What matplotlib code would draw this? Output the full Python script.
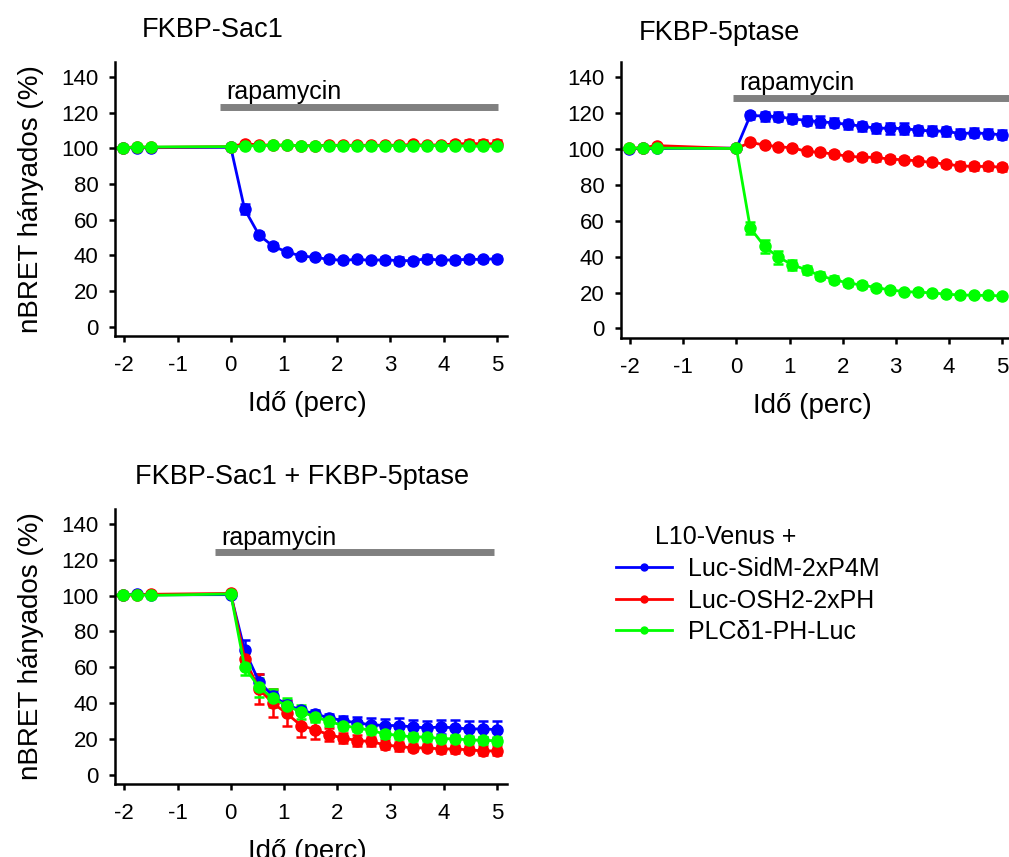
"""nBRET time courses after rapamycin-induced recruitment (three panels + legend)."""

import matplotlib
matplotlib.use("Agg")
import matplotlib.pyplot as plt
from matplotlib.lines import Line2D

plt.rcParams["font.family"] = ["Liberation Sans", "DejaVu Sans"]

# time points (min): 4 baseline reads, then rapamycin at 0
TIME = [-2.29, -2.03, -1.76, -1.50,
        0.00, 0.26, 0.53, 0.79, 1.05, 1.32, 1.58, 1.84, 2.11, 2.37,
        2.63, 2.89, 3.16, 3.42, 3.68, 3.95, 4.21, 4.47, 4.74, 5.00]

SERIES_NAMES = ["Luc-SidM-2xP4M", "Luc-OSH2-2xPH", "PLC\u03b41-PH-Luc"]
COLORS = ["#0000ff", "#ff0000", "#00ff00"]

# --- FKBP-Sac1 ---
sac1_blue = [100.0, 100.3, 100.4, 100.4,
             100.6, 65.9, 51.4, 45.2, 41.9, 39.6, 38.9, 37.7, 37.2, 37.7,
             37.2, 37.5, 37.0, 37.0, 38.1, 37.2, 37.5, 37.7, 37.7, 38.1]
sac1_blue_err = [0.5, 0.8, 0.8, 0.8,
                 0.8, 3.0, 1.8, 1.5, 1.3, 1.2, 1.2, 1.5, 1.5, 1.5,
                 1.5, 1.8, 1.8, 1.5, 1.8, 1.5, 1.8, 1.5, 1.5, 1.5]
sac1_red = [100.0, 100.5, 100.8, 100.6,
            101.0, 102.6, 102.0, 101.8, 101.9, 101.5, 101.6, 101.8, 101.7, 101.8,
            101.7, 101.8, 101.8, 102.2, 101.8, 102.0, 102.5, 102.7, 102.6, 102.6]
sac1_red_err = [0.5, 0.5, 0.5, 0.5,
                0.5, 1.0, 0.8, 0.8, 0.8, 0.8, 0.8, 0.8, 0.8, 0.8,
                0.8, 0.8, 0.8, 1.0, 1.0, 1.2, 1.5, 1.8, 2.0, 2.2]
sac1_green = [100.0, 100.4, 100.6, 100.8,
              101.0, 101.3, 101.6, 101.7, 101.8, 101.4, 101.4, 101.6, 101.6, 101.5,
              101.5, 101.5, 101.6, 101.5, 101.5, 101.6, 101.5, 101.3, 101.2, 101.3]
sac1_green_err = [0.5, 0.6, 0.6, 0.6,
                  0.6, 0.6, 0.6, 0.6, 0.6, 0.6, 0.6, 0.6, 0.6, 0.6,
                  0.6, 0.6, 0.6, 0.6, 0.6, 0.6, 0.6, 0.6, 0.6, 0.6]

# --- FKBP-5ptase ---
ptase_blue = [99.5, 100.2, 100.3, 100.3,
              100.5, 118.7, 118.4, 118.0, 116.9, 115.9, 115.2, 114.6, 113.7, 112.7,
              111.6, 111.6, 111.4, 110.5, 110.1, 109.9, 108.6, 109.0, 108.6, 107.9]
ptase_blue_err = [0.5, 0.5, 0.5, 0.5,
                  0.5, 2.0, 2.5, 2.5, 2.5, 2.5, 3.0, 2.5, 2.5, 2.5,
                  2.5, 3.0, 3.0, 2.5, 2.5, 2.5, 2.5, 2.5, 2.5, 2.5]
ptase_red = [99.2, 100.3, 100.8, 101.9,
             100.3, 103.7, 102.2, 101.3, 100.7, 98.7, 98.1, 97.2, 95.9, 95.5,
             95.3, 94.4, 94.0, 93.4, 92.5, 91.6, 90.6, 90.3, 90.3, 89.9]
ptase_red_err = [0.5, 0.5, 0.5, 0.5,
                 0.5, 1.0, 1.0, 1.0, 1.2, 1.5, 1.5, 1.5, 1.5, 1.5,
                 2.0, 1.5, 1.5, 1.5, 1.5, 1.5, 2.0, 2.0, 2.0, 2.0]
ptase_green = [99.5, 100.5, 100.5, 100.5,
               100.3, 56.0, 45.7, 39.7, 35.6, 32.6, 29.4, 27.2, 25.3, 24.2,
               22.8, 21.5, 20.6, 20.2, 19.9, 19.1, 18.7, 18.5, 18.4, 18.2]
ptase_green_err = [0.5, 0.5, 0.5, 0.5,
                   0.5, 3.5, 3.8, 3.5, 2.8, 2.5, 2.0, 1.8, 1.5, 1.5,
                   1.3, 1.2, 1.0, 1.0, 1.0, 1.0, 1.0, 1.0, 1.0, 1.0]

# --- FKBP-Sac1 + FKBP-5ptase ---
both_blue = [99.8, 100.5, 101.0, 100.5,
             100.6, 69.5, 52.0, 44.0, 39.0, 36.0, 34.0, 31.7, 30.2, 28.9,
             27.9, 27.4, 27.4, 26.6, 26.1, 26.6, 26.1, 25.5, 25.5, 25.1]
both_blue_err = [0.5, 0.5, 0.5, 0.5,
                 0.5, 6.0, 4.0, 2.5, 2.5, 2.0, 2.0, 2.0, 2.5, 3.0,
                 3.5, 3.5, 4.0, 4.0, 4.0, 4.0, 4.5, 4.5, 4.5, 4.7]
both_red = [99.8, 100.2, 100.5, 100.8,
            101.3, 64.8, 47.8, 40.0, 34.2, 27.4, 25.1, 22.3, 20.4, 19.0,
            18.5, 16.6, 15.7, 14.9, 14.9, 14.3, 14.3, 13.8, 13.2, 13.2]
both_red_err = [0.5, 0.5, 0.5, 0.5,
                0.5, 3.0, 8.5, 8.0, 7.0, 6.3, 5.0, 3.5, 3.0, 3.0,
                2.5, 2.5, 2.5, 2.0, 2.0, 2.0, 2.0, 2.0, 2.5, 2.5]
both_green = [100.0, 100.6, 100.5, 100.2,
              101.0, 60.1, 48.8, 42.7, 38.3, 35.1, 32.3, 29.8, 27.4, 26.1,
              24.7, 22.7, 21.9, 21.0, 21.0, 20.0, 20.0, 19.4, 19.1, 18.9]
both_green_err = [0.5, 0.5, 0.5, 0.5,
                  0.5, 4.4, 5.4, 5.0, 4.4, 4.0, 3.0, 2.5, 2.5, 2.0,
                  2.0, 2.0, 2.0, 2.0, 2.0, 2.0, 2.0, 2.0, 2.0, 2.0]

TITLES = ["FKBP-Sac1", "FKBP-5ptase", "FKBP-Sac1 + FKBP-5ptase"]
XTICKS = [-2, -1, 0, 1, 2, 3, 4, 5]
YTICKS = [0, 20, 40, 60, 80, 100, 120, 140]

W, H = 1009, 857
fig = plt.figure(figsize=(W / 100, H / 100), dpi=100)


def px_rect(left, top, right, bottom):
    return [left / W, 1 - bottom / H, (right - left) / W, (bottom - top) / H]


panels = [
    # axes rect, title x/y (axes frac), rapamycin bar (x0, x1, y), text (x, y), ylabel?
    (px_rect(115, 62, 507, 336), (0.068, 1.115), (-0.20, 5.03, 123.4), (-0.08, 127.5), True,
     [(sac1_blue, sac1_blue_err), (sac1_red, sac1_red_err), (sac1_green, sac1_green_err)]),
    (px_rect(621, 62, 1012, 338), (0.045, 1.105), (-0.06, 5.3, 128.2), (0.06, 133.0), False,
     [(ptase_blue, ptase_blue_err), (ptase_red, ptase_red_err), (ptase_green, ptase_green_err)]),
    (px_rect(115, 509, 507, 784), (0.051, 1.117), (-0.30, 4.94, 124.3), (-0.17, 128.5), True,
     [(both_blue, both_blue_err), (both_red, both_red_err), (both_green, both_green_err)]),
]

for i, (rect, title_xy, bar, txt, ylab, series) in enumerate(panels):
    ax = fig.add_axes(rect)
    for (vals, errs), c in zip(series, COLORS):
        ax.errorbar(TIME, vals, yerr=errs, color=c, marker="o", ms=8, mec=c,
                    lw=2.0, elinewidth=1.8, capsize=3.5, capthick=1.8)

    ax.set_xlim(-2.175, 5.19)
    ax.set_ylim(-5.3, 148.5)
    ax.set_xticks(XTICKS)
    ax.set_xticklabels([str(v) for v in XTICKS])
    ax.set_yticks(YTICKS)
    for s in ("top", "right"):
        ax.spines[s].set_visible(False)
    for s in ("left", "bottom"):
        ax.spines[s].set_linewidth(1.8)
    ax.tick_params(axis="both", labelsize=16, width=1.8, length=4, direction="out")
    ax.tick_params(axis="x", pad=10)
    ax.tick_params(axis="y", pad=8)

    # rapamycin application bar
    ax.plot([bar[0], bar[1]], [bar[2], bar[2]], color="#808080", lw=5,
            solid_capstyle="butt", clip_on=False)
    ax.text(txt[0], txt[1], "rapamycin", fontsize=18, va="baseline", ha="left")

    ax.text(title_xy[0], title_xy[1], TITLES[i], transform=ax.transAxes,
            fontsize=19.5, ha="left", va="center")

    ax.set_xlabel("Idő (perc)", fontsize=20)
    ax.xaxis.set_label_coords(0.49, -0.2)
    if ylab:
        ax.set_ylabel("nBRET hányados (%)", fontsize=20)
        ax.yaxis.set_label_coords(-0.18, 0.5)

# legend in the empty bottom-right slot
handles = [Line2D([], [], color=c, lw=2, marker="o", ms=5) for c in COLORS]
fig.text(655 / W, 1 - 536.7 / H, "L10-Venus +", fontsize=18, ha="left", va="center")
fig.legend(handles, SERIES_NAMES, loc="upper left", bbox_to_anchor=(616 / W, 1 - 557 / H),
           frameon=False, fontsize=18, handlelength=2.25, handletextpad=0.65,
           labelspacing=0.3, borderpad=0, borderaxespad=0)

fig.savefig("out.png", dpi=100)
